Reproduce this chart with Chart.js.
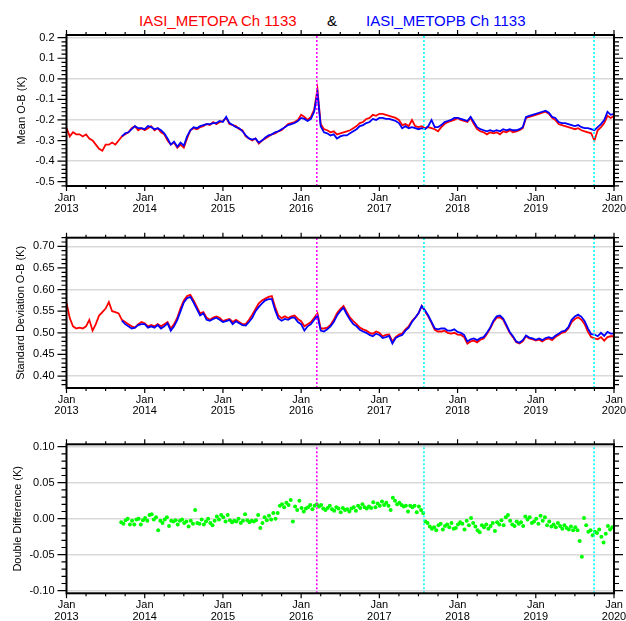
<!DOCTYPE html>
<html>
<head>
<meta charset="utf-8">
<script src="https://cdn.jsdelivr.net/npm/chart.js@4"></script>
<style>
  html, body { margin: 0; padding: 0; background: #fff; }
  body { width: 626px; height: 621px; position: relative; overflow: hidden; font-family: 'Liberation Sans', Arial, sans-serif; }
  .ttl { position: absolute; top: 13px; font-size: 15px; line-height: 16px; white-space: nowrap; }
  canvas { position: absolute; left: 0; }
</style>
</head>
<body>
<span class="ttl" style="left:139px;color:#ff0000">IASI_METOPA Ch 1133</span>
<span class="ttl" style="left:327px;color:#000">&amp;</span>
<span class="ttl" style="left:366px;color:#0000ff">IASI_METOPB Ch 1133</span>
<canvas id="c1" width="626" height="215" style="top:0px"></canvas>
<canvas id="c2" width="626" height="205" style="top:215px"></canvas>
<canvas id="c3" width="626" height="201" style="top:420px"></canvas>
<script>
// ---------- data ----------
const seriesStart = 2013.0;       // first sample (decimal year)
const seriesStep = 1 / 24;        // semi-monthly samples
const metopbStartIndex = 17;      // METOP-B record begins later
const yearLabels = ['2013', '2014', '2015', '2016', '2017', '2018', '2019', '2020'];
const eventDates = [2016.20, 2017.57, 2019.745];
const eventColors = ['#ff00ff', '#00ffff', '#00ffff'];

const metopaMean = [
  -0.24,-0.28,-0.26,-0.27,-0.27,-0.28,-0.27,-0.29,-0.30,-0.32,
  -0.34,-0.35,-0.32,-0.32,-0.31,-0.32,-0.30,-0.28,-0.27,-0.26,
  -0.24,-0.23,-0.25,-0.24,-0.25,-0.24,-0.23,-0.25,-0.24,-0.26,
  -0.27,-0.30,-0.32,-0.31,-0.335,-0.32,-0.335,-0.29,-0.25,-0.24,
  -0.245,-0.235,-0.23,-0.22,-0.225,-0.21,-0.22,-0.21,-0.205,-0.19,
  -0.22,-0.225,-0.23,-0.245,-0.25,-0.28,-0.29,-0.30,-0.29,-0.315,
  -0.30,-0.29,-0.28,-0.27,-0.265,-0.255,-0.25,-0.235,-0.22,-0.215,
  -0.21,-0.20,-0.175,-0.185,-0.20,-0.185,-0.15,-0.05,-0.22,-0.245,
  -0.25,-0.26,-0.255,-0.27,-0.265,-0.26,-0.255,-0.25,-0.24,-0.23,
  -0.215,-0.21,-0.195,-0.19,-0.175,-0.18,-0.17,-0.17,-0.175,-0.18,
  -0.185,-0.19,-0.20,-0.225,-0.22,-0.23,-0.20,-0.23,-0.235,-0.23,
  -0.24,-0.235,-0.24,-0.245,-0.255,-0.235,-0.22,-0.21,-0.205,-0.20,
  -0.19,-0.20,-0.205,-0.21,-0.19,-0.22,-0.245,-0.255,-0.26,-0.27,
  -0.26,-0.265,-0.26,-0.27,-0.255,-0.26,-0.25,-0.26,-0.255,-0.25,
  -0.24,-0.19,-0.185,-0.18,-0.175,-0.17,-0.165,-0.16,-0.17,-0.19,
  -0.20,-0.22,-0.225,-0.23,-0.235,-0.24,-0.245,-0.24,-0.25,-0.255,
  -0.26,-0.265,-0.30,-0.25,-0.235,-0.215,-0.18,-0.19,-0.18
];
const metopbMean = [
  -0.28,-0.265,-0.26,
  -0.245,-0.23,-0.24,-0.24,-0.245,-0.23,-0.235,-0.245,-0.24,-0.25,
  -0.265,-0.29,-0.32,-0.305,-0.33,-0.31,-0.325,-0.28,-0.25,-0.235,
  -0.24,-0.23,-0.225,-0.22,-0.22,-0.215,-0.215,-0.205,-0.21,-0.185,
  -0.215,-0.225,-0.235,-0.24,-0.255,-0.275,-0.29,-0.295,-0.29,-0.31,
  -0.30,-0.285,-0.275,-0.27,-0.26,-0.255,-0.245,-0.235,-0.225,-0.22,
  -0.215,-0.205,-0.19,-0.195,-0.205,-0.195,-0.16,-0.07,-0.23,-0.26,
  -0.265,-0.275,-0.27,-0.29,-0.28,-0.275,-0.275,-0.265,-0.255,-0.245,
  -0.23,-0.225,-0.215,-0.21,-0.195,-0.20,-0.19,-0.19,-0.195,-0.195,
  -0.20,-0.205,-0.215,-0.24,-0.23,-0.24,-0.235,-0.24,-0.245,-0.24,
  -0.245,-0.23,-0.20,-0.235,-0.235,-0.225,-0.21,-0.205,-0.20,-0.19,
  -0.19,-0.195,-0.20,-0.205,-0.185,-0.21,-0.235,-0.245,-0.25,-0.255,
  -0.25,-0.255,-0.25,-0.255,-0.245,-0.25,-0.245,-0.25,-0.25,-0.245,
  -0.235,-0.185,-0.18,-0.175,-0.17,-0.165,-0.16,-0.155,-0.165,-0.185,
  -0.19,-0.21,-0.215,-0.215,-0.22,-0.225,-0.23,-0.225,-0.235,-0.24,
  -0.24,-0.245,-0.25,-0.235,-0.22,-0.20,-0.16,-0.175,-0.17
];
const metopaStd = [
  0.569,0.534,0.515,0.51,0.512,0.51,0.515,0.530,0.505,0.52,
  0.54,0.548,0.556,0.571,0.55,0.548,0.545,0.53,0.525,0.52,
  0.515,0.512,0.52,0.525,0.522,0.515,0.518,0.515,0.52,0.515,
  0.52,0.525,0.51,0.52,0.535,0.557,0.575,0.585,0.588,0.575,
  0.56,0.545,0.548,0.535,0.53,0.535,0.538,0.535,0.527,0.53,
  0.532,0.525,0.53,0.525,0.52,0.52,0.53,0.542,0.555,0.568,
  0.575,0.579,0.583,0.585,0.56,0.54,0.534,0.538,0.534,0.538,
  0.54,0.532,0.527,0.515,0.52,0.525,0.535,0.545,0.51,0.51,
  0.512,0.518,0.53,0.545,0.555,0.562,0.548,0.535,0.527,0.52,
  0.512,0.508,0.505,0.50,0.498,0.503,0.50,0.492,0.495,0.496,
  0.48,0.49,0.496,0.498,0.508,0.515,0.527,0.535,0.545,0.562,
  0.55,0.538,0.523,0.507,0.503,0.503,0.505,0.50,0.498,0.50,
  0.496,0.495,0.49,0.475,0.48,0.482,0.478,0.484,0.487,0.497,
  0.51,0.525,0.535,0.536,0.53,0.515,0.50,0.49,0.478,0.475,
  0.48,0.492,0.487,0.485,0.482,0.484,0.48,0.485,0.487,0.483,
  0.49,0.495,0.50,0.502,0.51,0.525,0.532,0.536,0.53,0.52,
  0.502,0.49,0.487,0.485,0.49,0.482,0.49,0.492,0.492
];
const metopbStd = [
  0.528,0.52,0.515,
  0.51,0.512,0.518,0.52,0.52,0.512,0.515,0.512,0.518,0.51,
  0.515,0.522,0.505,0.515,0.53,0.55,0.57,0.58,0.583,0.57,
  0.555,0.54,0.545,0.53,0.528,0.532,0.535,0.53,0.525,0.527,
  0.53,0.52,0.527,0.522,0.518,0.517,0.525,0.535,0.55,0.56,
  0.568,0.575,0.578,0.578,0.553,0.533,0.528,0.532,0.53,0.535,
  0.535,0.525,0.52,0.505,0.515,0.52,0.53,0.54,0.505,0.503,
  0.508,0.515,0.525,0.54,0.55,0.558,0.543,0.53,0.52,0.515,
  0.507,0.503,0.50,0.495,0.492,0.498,0.495,0.488,0.49,0.493,
  0.475,0.488,0.492,0.495,0.505,0.512,0.525,0.535,0.545,0.562,
  0.552,0.54,0.525,0.51,0.508,0.51,0.51,0.505,0.505,0.508,
  0.502,0.50,0.495,0.48,0.485,0.487,0.483,0.488,0.49,0.50,
  0.512,0.528,0.538,0.54,0.533,0.518,0.502,0.492,0.48,0.477,
  0.483,0.494,0.489,0.487,0.484,0.487,0.483,0.488,0.49,0.487,
  0.493,0.498,0.503,0.505,0.513,0.53,0.538,0.542,0.537,0.527,
  0.51,0.497,0.496,0.492,0.50,0.493,0.502,0.498,0.498
];
const ddStart = 2013.70;          // first double-difference sample
const ddStep = 1 / 36;            // ~10-day samples
const ddValues = [
  -0.005,-0.007,-0.002,0.000,-0.008,-0.003,-0.008,-0.001,0.000,-0.008,-0.002,
  0.001,-0.003,0.005,0.006,-0.001,0.002,-0.016,-0.003,-0.006,-0.001,0.002,-0.010,
  -0.003,-0.004,-0.002,-0.008,-0.003,-0.001,-0.006,-0.004,-0.011,-0.003,-0.007,0.012,
  -0.006,-0.007,-0.001,-0.008,-0.004,0.000,-0.006,-0.009,-0.003,0.003,-0.001,0.005,
  0.002,-0.004,0.005,-0.002,-0.005,-0.003,-0.004,0.000,-0.006,-0.003,0.006,-0.002,
  -0.005,-0.003,-0.004,-0.002,0.005,-0.013,-0.006,0.002,-0.002,0.004,-0.001,0.008,
  0.000,0.008,0.018,0.020,0.016,0.022,0.019,0.026,-0.004,0.017,0.012,0.025,
  0.015,0.010,0.014,0.016,0.019,0.013,0.018,0.020,0.017,0.019,0.014,0.012,
  0.015,0.018,0.013,0.011,0.016,0.014,0.009,0.015,0.012,0.013,0.010,0.014,
  0.016,0.011,0.018,0.015,0.020,0.016,0.014,0.017,0.015,0.023,0.016,0.021,
  0.018,0.024,0.019,0.022,0.018,0.012,0.029,0.025,0.020,0.022,0.019,0.017,
  0.018,0.010,0.018,0.016,0.018,0.009,0.017,0.012,0.008,-0.004,-0.006,-0.011,
  -0.014,-0.012,-0.016,-0.009,-0.007,-0.015,-0.010,-0.008,-0.012,-0.006,-0.014,-0.013,
  -0.008,-0.005,-0.007,-0.015,-0.003,-0.009,0.001,-0.006,-0.011,-0.016,-0.019,-0.009,
  -0.012,-0.008,-0.014,-0.010,-0.006,-0.017,-0.005,-0.008,-0.002,-0.009,0.002,0.005,
  -0.003,-0.008,-0.010,-0.004,-0.007,-0.005,-0.010,0.003,-0.001,0.002,-0.006,-0.004,
  0.000,-0.007,0.004,-0.003,0.002,-0.009,-0.004,-0.011,-0.008,-0.012,-0.006,-0.010,
  -0.014,-0.009,-0.013,-0.015,-0.011,-0.016,-0.012,-0.016,-0.031,-0.053,0.001,-0.009,
  -0.018,-0.016,-0.023,-0.018,-0.020,-0.015,-0.025,-0.033,-0.021,-0.010,-0.015,-0.012
];

// ---------- helpers ----------
const FONT = "'Liberation Sans', Arial, Helvetica, sans-serif";
const toPts = (vals, start, step) => vals.map((v, i) => ({ x: start + i * step, y: v }));
const isMultiple = (v, s) => { const r = v / s; return Math.abs(r - Math.round(r)) < 1e-6; };

const framePlugin = {
  id: 'frame',
  afterDraw(chart, args, o) {
    const { ctx, chartArea: a, scales: { x, y } } = chart;
    ctx.save();
    ctx.strokeStyle = '#000';
    ctx.lineWidth = 1.2;
    ctx.beginPath();
    const k0 = Math.ceil(y.min / o.yMinor - 1e-6), k1 = Math.floor(y.max / o.yMinor + 1e-6);
    for (let k = k0; k <= k1; k++) {
      const v = k * o.yMinor;
      const len = isMultiple(v, o.yMajor) ? 9 : 5;
      const py = y.getPixelForValue(v);
      ctx.moveTo(a.left - len, py); ctx.lineTo(a.left, py);
      ctx.moveTo(a.right, py); ctx.lineTo(a.right + len, py);
    }
    const j0 = Math.ceil(x.min / 0.25 - 1e-6), j1 = Math.floor(x.max / 0.25 + 1e-6);
    for (let j = j0; j <= j1; j++) {
      const v = j * 0.25;
      const len = isMultiple(v, 1) ? 5 : 3;
      const px = x.getPixelForValue(v);
      ctx.moveTo(px, a.bottom); ctx.lineTo(px, a.bottom + len);
      ctx.moveTo(px, a.top); ctx.lineTo(px, a.top - len);
    }
    ctx.stroke();
    ctx.lineWidth = 2;
    ctx.strokeRect(a.left, a.top, a.right - a.left, a.bottom - a.top);
    ctx.restore();
  }
};

function eventSets(yMin, yMax) {
  return eventDates.map((d, i) => ({
    type: 'line',
    data: [{ x: d, y: yMin }, { x: d, y: yMax }],
    borderColor: eventColors[i], borderWidth: 1.6, borderDash: [2, 2],
    pointRadius: 0, order: 0
  }));
}

function makeChart(id, c) {
  return new Chart(document.getElementById(id), {
    type: 'line',
    data: { datasets: c.datasets.concat(eventSets(c.yMin, c.yMax)) },
    options: {
      responsive: false, animation: false, devicePixelRatio: 1,
      layout: { padding: { left: 0, right: 12, top: c.padTop, bottom: 0 } },
      plugins: {
        legend: { display: false }, tooltip: { enabled: false },
        frame: { yMajor: c.yStep, yMinor: c.yMinor }
      },
      scales: {
        x: {
          type: 'linear', min: 2013, max: 2020,
          border: { display: false },
          grid: { display: false },
          ticks: {
            stepSize: 1, autoSkip: false, maxRotation: 0, padding: -2, color: '#000',
            font: { family: FONT, size: 11, lineHeight: 1.05 },
            callback: v => ['Jan', yearLabels[Math.round(v) - 2013]]
          },
          afterFit: s => { s.height = c.xH; s.paddingLeft = 0; s.paddingRight = 0; }
        },
        y: {
          type: 'linear', min: c.yMin, max: c.yMax,
          border: { display: false },
          grid: {
            drawTicks: false, lineWidth: 1.5,
            color: ctx => (ctx.tick && isMultiple(ctx.tick.value, c.gridStep)) ? '#d9d9d9' : 'rgba(0,0,0,0)'
          },
          ticks: {
            stepSize: c.yStep, includeBounds: false, padding: 12, color: '#000',
            font: { family: FONT, size: 11 },
            callback: v => (Math.abs(v) < 1e-9 ? 0 : v).toFixed(c.dec)
          },
          title: {
            display: true, text: c.yTitle, color: '#000',
            font: { family: FONT, size: 11 }, padding: { top: c.titlePad, bottom: 0 }
          },
          afterFit: s => { s.width = 66.5; s.paddingTop = 0; s.paddingBottom = 0; }
        }
      }
    },
    plugins: [framePlugin]
  });
}

const lineSet = (pts, color, order) => ({
  type: 'line', data: pts, borderColor: color, borderWidth: 1.8,
  pointRadius: 0, tension: 0, fill: false, order: order
});
const bStart = seriesStart + metopbStartIndex * seriesStep;

makeChart('c1', {
  padTop: 35, xH: 29, yMin: -0.521, yMax: 0.213, yStep: 0.1, yMinor: 0.02, gridStep: 0.2, dec: 1,
  yTitle: 'Mean O-B (K)', titlePad: 15,
  datasets: [
    lineSet(toPts(metopbMean, bStart, seriesStep), '#0000ff', 1),
    lineSet(toPts(metopaMean, seriesStart, seriesStep), '#ff0000', 2)
  ]
});
makeChart('c2', {
  padTop: 22.7, xH: 32, yMin: 0.3723, yMax: 0.72, yStep: 0.05, yMinor: 0.01, gridStep: 0.1, dec: 2,
  yTitle: 'Standard Deviation O-B (K)', titlePad: 14,
  datasets: [
    lineSet(toPts(metopbStd, bStart, seriesStep), '#0000ff', 1),
    lineSet(toPts(metopaStd, seriesStart, seriesStep), '#ff0000', 2)
  ]
});
makeChart('c3', {
  padTop: 24.3, xH: 27.7, yMin: -0.1036, yMax: 0.1033, yStep: 0.05, yMinor: 0.01, gridStep: 0.05, dec: 2,
  yTitle: 'Double Difference (K)', titlePad: 11,
  datasets: [
    { type: 'scatter', data: toPts(ddValues, ddStart, ddStep), backgroundColor: '#00ff00',
      borderWidth: 0, pointRadius: 2, showLine: false, order: 1 }
  ]
});
</script>
</body>
</html>
